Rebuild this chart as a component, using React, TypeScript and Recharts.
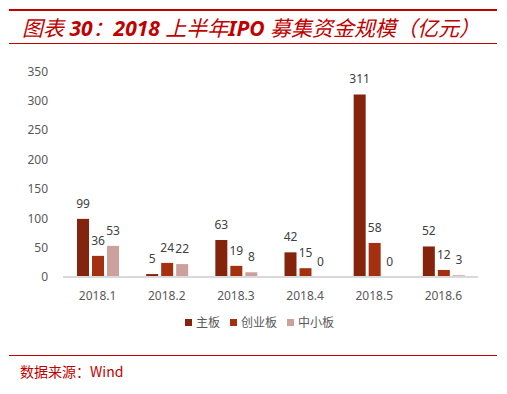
import { BarChart, Bar, XAxis, YAxis, LabelList } from 'recharts';

const months = ['2018.1', '2018.2', '2018.3', '2018.4', '2018.5', '2018.6'];
const mainBoard = [99, 5, 63, 42, 311, 52];
const chinext = [36, 24, 19, 15, 58, 12];
const smeBoard = [53, 22, 8, 0, 0, 3];
const yTicks = [0, 50, 100, 150, 200, 250, 300, 350];

const series = [
  { key: 'main', name: '主板', color: '#85240C', values: mainBoard },
  { key: 'gem', name: '创业板', color: '#A5300F', values: chinext },
  { key: 'sme', name: '中小板', color: '#CCA19D', values: smeBoard },
];

const data = months.map((m, i) => ({
  month: m,
  main: mainBoard[i],
  gem: chinext[i],
  sme: smeBoard[i],
}));

const FONT = "'Noto Sans', 'Noto Sans CJK SC', sans-serif";
const CJK = "'Noto Sans CJK SC', sans-serif";
const RED = '#C00000';

// value label drawn above each bar, zero values included
const renderValue = (props: any) => {
  const { x, y, width, height, value } = props;
  if (value === undefined || value === null) return null;
  // bars of value 0 get a hairline min size so they keep a label; put label on the axis
  const top = Number(y) + (Number(height) < 0 ? Number(height) : 0);
  return (
    <text
      x={Number(x) + Number(width) / 2}
      y={top - 11}
      textAnchor="middle"
      fill="#404040"
      fontSize={12}
      fontFamily={FONT}
    >
      {value}
    </text>
  );
};

const latin = { fontFamily: "'Noto Sans', sans-serif", fontWeight: 'bold' as const };

const App = () => {
  return (
    <div style={{ position: 'absolute', left: 0, top: 0, width: 507, height: 394, background: '#fff', fontFamily: FONT }}>
      <div style={{ position: 'absolute', left: 9, top: 9, width: 488, height: 2, background: RED }} />
      <div
        style={{
          position: 'absolute',
          left: 22,
          top: 13,
          fontSize: 21,
          lineHeight: '28px',
          fontStyle: 'italic',
          color: RED,
          whiteSpace: 'pre',
          fontFamily: CJK,
        }}
      >
        图表<span style={latin}> 30</span>：<span style={latin}>2018 </span>上半年<span style={latin}>IPO </span>募集资金规模（亿元）
      </div>
      <div style={{ position: 'absolute', left: 9, top: 43, width: 488, height: 1, background: RED }} />

      <div style={{ position: 'absolute', left: 0, top: 0 }}>
        <BarChart
          width={507}
          height={394}
          data={data}
          margin={{ top: 71.5, right: 29, left: 23, bottom: 87 }}
          barSize={12}
          barGap={3}
        >
          <XAxis
            dataKey="month"
            height={30}
            tickLine={false}
            tickSize={0}
            tickMargin={14}
            axisLine={{ stroke: '#D9D9D9', strokeWidth: 2 }}
            tick={{ fill: '#595959', fontSize: 12, fontFamily: FONT }}
          />
          <YAxis
            width={40}
            domain={[0, 350]}
            ticks={yTicks}
            axisLine={false}
            tickLine={false}
            tickSize={0}
            tickMargin={15}
            tick={{ fill: '#595959', fontSize: 12, fontFamily: FONT }}
          />
          {series.map((s) => (
            <Bar
              key={s.key}
              dataKey={s.key}
              name={s.name}
              fill={s.color}
              minPointSize={0.01}
              isAnimationActive={false}
            >
              <LabelList dataKey={s.key} content={renderValue} />
            </Bar>
          ))}
        </BarChart>
      </div>

      <div
        style={{
          position: 'absolute',
          left: 185,
          top: 314,
          display: 'flex',
          alignItems: 'center',
          fontSize: 12,
          lineHeight: '16px',
          color: '#595959',
          fontFamily: CJK,
        }}
      >
        {series.map((s) => (
          <div key={s.key} style={{ display: 'flex', alignItems: 'center', marginRight: 10 }}>
            <span style={{ width: 7, height: 7, background: s.color, display: 'inline-block', marginRight: 4 }} />
            <span>{s.name}</span>
          </div>
        ))}
      </div>

      <div style={{ position: 'absolute', left: 9, top: 355, width: 488, height: 1, background: RED }} />
      <div
        style={{
          position: 'absolute',
          left: 20,
          top: 361,
          fontSize: 14,
          lineHeight: '20px',
          color: RED,
          whiteSpace: 'nowrap',
          fontFamily: CJK,
        }}
      >
        数据来源：Wind
      </div>
    </div>
  );
};

export default App;
